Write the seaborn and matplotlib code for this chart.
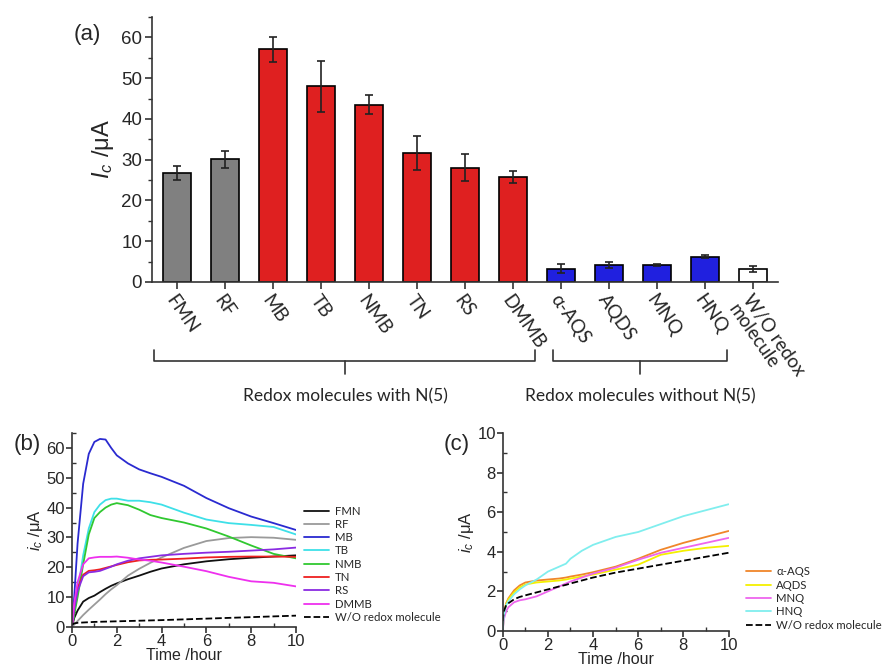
import numpy as np
import pandas as pd
import matplotlib
matplotlib.use('Agg')
import matplotlib.pyplot as plt
import matplotlib.transforms as mtransforms
from matplotlib.ticker import MultipleLocator
import seaborn as sns

# ---- panel (a): bar data ----
mol_names = ['FMN', 'RF', 'MB', 'TB', 'NMB', 'TN', 'RS', 'DMMB',
             'α-AQS', 'AQDS', 'MNQ', 'HNQ', 'W/O redox\nmolecule']
mol_current = [26.7, 30.1, 57.1, 48.0, 43.5, 31.6, 28.0, 25.8, 3.3, 4.1, 4.2, 6.2, 3.1]
mol_error = [1.7, 2.1, 3.1, 6.3, 2.3, 4.2, 3.3, 1.4, 1.0, 0.7, 0.3, 0.3, 0.7]
mol_color = ['#808080'] * 2 + ['#ff0000'] * 6 + ['#0000ff'] * 4 + ['#ffffff']

# ---- panel (b): time courses, molecules with N(5) ----
t_b = [0, 0.1, 0.25, 0.5, 0.75, 1, 1.25, 1.5, 1.75, 2, 2.5, 3, 3.5, 4, 5, 6, 7, 8, 9, 10]
fmn = [0, 3, 5.5, 8.5, 9.7, 10.5, 11.7, 12.8, 13.8, 14.6, 16, 17.2, 18.5, 19.6, 21, 22, 22.7, 23.2, 23.6, 24]
rf = [0, 0.8, 2, 4, 5.8, 7.5, 9.2, 11, 12.6, 14, 17.2, 19.5, 21.5, 23.3, 26.5, 28.8, 29.8, 30.1, 29.9, 29.2]
mb = [0, 10, 28, 48, 58, 62, 63, 62.8, 60, 57.5, 54.8, 52.8, 51.5, 50.3, 47.3, 43.2, 39.8, 37, 34.8, 32.5]
tb = [0, 5, 12, 24, 33, 38.5, 41, 42.5, 43, 43, 42.3, 42.3, 41.8, 41, 38.3, 36, 34.8, 34.2, 33.5, 31]
nmb = [0, 4, 10, 21, 31, 36.5, 38.5, 40, 41, 41.5, 40.8, 39.3, 37.5, 36.5, 35, 33, 30.3, 27.3, 24.5, 23]
tn = [0, 7, 13, 17.5, 18.8, 19, 19.3, 19.8, 20.3, 20.8, 21.7, 22.3, 22.5, 22.6, 22.9, 23.3, 23.5, 23.6, 23.6, 23.5]
rs = [0, 6, 12, 17, 18.3, 18.5, 18.8, 19.5, 20.2, 21, 22.2, 23, 23.5, 24, 24.5, 24.9, 25.2, 25.6, 26, 26.6]
dmmb = [0, 8, 15, 21, 23, 23.3, 23.5, 23.5, 23.5, 23.6, 23.2, 22.6, 22.2, 21.6, 20.2, 18.7, 16.8, 15.3, 14.8, 13.6]
blank_b = [0.8, 1.2, 1.4, 1.5, 1.6, 1.7, 1.75, 1.8, 1.85, 1.9, 2.0, 2.1, 2.2, 2.3, 2.55, 2.8, 3.05, 3.3, 3.55, 3.8]

# ---- panel (c): time courses, molecules without N(5) ----
t_c = [0, 0.05, 0.15, 0.25, 0.5, 0.75, 1, 1.5, 2, 2.5, 2.8, 3, 3.5, 4, 5, 6, 7, 8, 9, 10]
aqs = [0, 0.9, 1.4, 1.65, 2.05, 2.3, 2.45, 2.55, 2.6, 2.65, 2.7, 2.75, 2.85, 2.97, 3.25, 3.65, 4.1, 4.45, 4.75, 5.05]
aqds = [0, 0.85, 1.35, 1.6, 1.95, 2.2, 2.35, 2.45, 2.5, 2.55, 2.6, 2.65, 2.75, 2.85, 3.1, 3.35, 3.85, 4.05, 4.2, 4.3]
mnq = [0, 0.6, 1.0, 1.2, 1.45, 1.55, 1.6, 1.75, 2.0, 2.25, 2.4, 2.5, 2.7, 2.9, 3.2, 3.6, 3.95, 4.2, 4.45, 4.7]
hnq = [0, 0.8, 1.3, 1.5, 1.85, 2.1, 2.3, 2.6, 3.0, 3.25, 3.4, 3.65, 4.05, 4.35, 4.75, 5.0, 5.4, 5.8, 6.1, 6.4]
blank_c = [0.5, 1.0, 1.3, 1.4, 1.6, 1.72, 1.8, 1.95, 2.1, 2.25, 2.33, 2.4, 2.55, 2.7, 2.95, 3.15, 3.35, 3.55, 3.75, 3.95]

series_b = [('FMN', fmn, '#111111'), ('RF', rf, '#9a9a9a'), ('MB', mb, '#2a2ad0'),
            ('TB', tb, '#3ee0e8'), ('NMB', nmb, '#30c830'), ('TN', tn, '#ee2020'),
            ('RS', rs, '#8a2be2'), ('DMMB', dmmb, '#ee30ee')]
series_c = [('α-AQS', aqs, '#f0862a'), ('AQDS', aqds, '#f4f000'),
            ('MNQ', mnq, '#ee66ee'), ('HNQ', hnq, '#80eeee')]

sns.set_style('ticks')
plt.rcParams['font.family'] = ['Liberation Sans', 'DejaVu Sans']
plt.rcParams['mathtext.fontset'] = 'custom'
plt.rcParams['mathtext.rm'] = 'Liberation Sans'
plt.rcParams['mathtext.it'] = 'Liberation Sans:italic'
spine_col = '#333333'
lab_font = ['Lato', 'DejaVu Sans']

fig = plt.figure(figsize=(8.82, 6.69), dpi=100)


def style_axes(ax):
    sns.despine(ax=ax)
    for s in ['left', 'bottom']:
        ax.spines[s].set_color(spine_col)
        ax.spines[s].set_linewidth(1.2)


# ---------------- (a) ----------------
ax_a = fig.add_axes([0.1723, 0.5785, 0.7098, 0.396])
df_a = pd.DataFrame({'molecule': mol_names, 'current': mol_current})
sns.barplot(data=df_a, x='molecule', y='current', hue='molecule', palette=mol_color,
            legend=False, edgecolor='black', linewidth=1.2, width=0.6, ax=ax_a)
ax_a.errorbar(np.arange(len(mol_names)), mol_current, yerr=mol_error, fmt='none',
              ecolor='#222222', elinewidth=1.2, capsize=3, capthick=1.2)
ax_a.set_xlim(-0.52, 12.52)
ax_a.set_ylim(0, 65)
ax_a.yaxis.set_major_locator(MultipleLocator(10))
ax_a.yaxis.set_minor_locator(MultipleLocator(5))
style_axes(ax_a)
ax_a.tick_params(axis='y', labelsize=13.5, length=5, width=1.2, color=spine_col, pad=2)
ax_a.tick_params(axis='y', which='minor', length=3, width=1, color=spine_col)
ax_a.tick_params(axis='x', length=5, width=1.2, color=spine_col, pad=2)
ax_a.set_xticks(np.arange(len(mol_names)))
ax_a.set_xticklabels(mol_names, rotation=-55, rotation_mode='anchor', ha='left', va='top',
                     fontsize=13.5, family=lab_font, linespacing=1.0)
ax_a.set_xlabel('')
ax_a.set_ylabel(r'$I_c$ /μA', fontsize=17, labelpad=4)
fig.text(0.099, 0.948, '(a)', fontsize=16, ha='center', va='center')

# group brackets below the category labels
trans = mtransforms.blended_transform_factory(ax_a.transData, fig.transFigure)
for x0, x1, xc, text in [(-0.47, 7.46, 3.5, 'Redox molecules with N(5)'),
                         (7.83, 11.46, 9.65, 'Redox molecules without N(5)')]:
    ax_a.plot([x0, x0, x1, x1], [1 - 350 / 669, 1 - 361 / 669, 1 - 361 / 669, 1 - 350 / 669],
              color='#333333', lw=1.2, transform=trans, clip_on=False)
    ax_a.plot([xc, xc], [1 - 361 / 669, 1 - 374 / 669], color='#333333', lw=1.2,
              transform=trans, clip_on=False)
    ax_a.text(xc, 1 - 396 / 669, text, transform=trans, ha='center', va='center',
              fontsize=12.5, family=lab_font)

# ---------------- (b) ----------------
ax_b = fig.add_axes([0.0816, 0.0628, 0.254, 0.29])
for name, vals, col in series_b:
    sns.lineplot(x=t_b, y=vals, color=col, lw=1.3, label=name, ax=ax_b)
sns.lineplot(x=t_b, y=blank_b, color='black', lw=1.3, linestyle='--', label='W/O redox molecule', ax=ax_b)
ax_b.set_xlim(0, 10)
ax_b.set_ylim(0, 65)
ax_b.xaxis.set_major_locator(MultipleLocator(2))
ax_b.xaxis.set_minor_locator(MultipleLocator(1))
ax_b.yaxis.set_major_locator(MultipleLocator(10))
ax_b.yaxis.set_minor_locator(MultipleLocator(5))
ax_b.set_xlabel('Time /hour', fontsize=11.5, labelpad=-1)
ax_b.set_ylabel(r'$i_c$ /μA', fontsize=12, labelpad=1)
ax_b.legend(loc='upper left', bbox_to_anchor=(1.01, 0.655), frameon=False, prop={'family': lab_font, 'size': 8.2},
            handlelength=2.2, handletextpad=0.5, labelspacing=0.2, borderpad=0)
fig.text(0.031, 0.336, '(b)', fontsize=16, ha='center', va='center')

# ---------------- (c) ----------------
ax_c = fig.add_axes([0.570, 0.0568, 0.256, 0.296])
for name, vals, col in series_c:
    sns.lineplot(x=t_c, y=vals, color=col, lw=1.3, label=name, ax=ax_c)
sns.lineplot(x=t_c, y=blank_c, color='black', lw=1.3, linestyle='--', label='W/O redox molecule', ax=ax_c)
ax_c.set_xlim(0, 10)
ax_c.set_ylim(0, 10)
ax_c.xaxis.set_major_locator(MultipleLocator(2))
ax_c.xaxis.set_minor_locator(MultipleLocator(1))
ax_c.yaxis.set_major_locator(MultipleLocator(2))
ax_c.yaxis.set_minor_locator(MultipleLocator(1))
ax_c.set_xlabel('Time /hour', fontsize=11.5, labelpad=-1)
ax_c.set_ylabel(r'$i_c$ /μA', fontsize=12, labelpad=1)
ax_c.legend(loc='upper left', bbox_to_anchor=(1.05, 0.355), frameon=False, prop={'family': lab_font, 'size': 8.2},
            handlelength=2.2, handletextpad=0.5, labelspacing=0.2, borderpad=0)
fig.text(0.518, 0.336, '(c)', fontsize=16, ha='center', va='center')

for ax in (ax_b, ax_c):
    style_axes(ax)
    ax.tick_params(which='major', direction='out', length=4, width=1.2, color=spine_col,
                   labelsize=12, pad=1)
    ax.tick_params(which='minor', direction='in', length=3, width=1, color=spine_col)

fig.savefig('out.png', dpi=100)
